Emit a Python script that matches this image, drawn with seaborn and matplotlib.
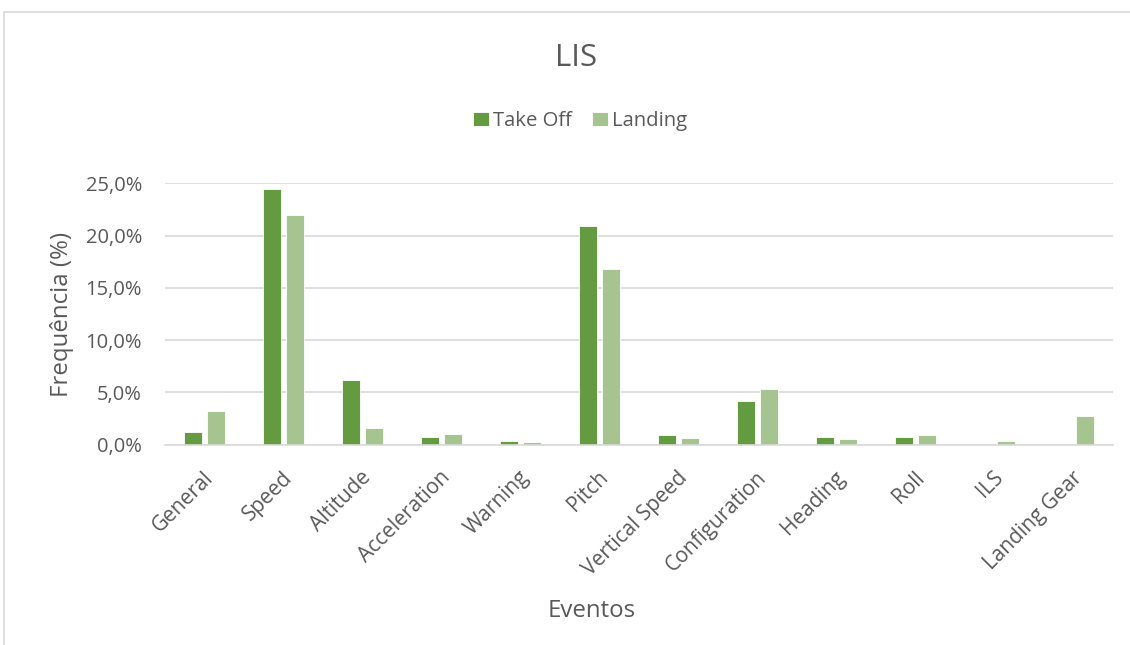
import matplotlib
matplotlib.use("Agg")
import matplotlib.pyplot as plt
import matplotlib.transforms as mtransforms
from matplotlib.lines import Line2D
from matplotlib.ticker import FuncFormatter, MultipleLocator
import pandas as pd
import seaborn as sns

# Event categories and frequency (%) per flight phase
eventos = ["General", "Speed", "Altitude", "Acceleration", "Warning", "Pitch",
           "Vertical Speed", "Configuration", "Heading", "Roll", "ILS", "Landing Gear"]
take_off = [1.2, 24.5, 6.2, 0.7, 0.4, 20.9, 0.9, 4.2, 0.75, 0.75, 0.0, 0.0]
landing = [3.2, 22.0, 1.6, 1.0, 0.25, 16.8, 0.6, 5.35, 0.55, 0.9, 0.33, 2.7]
fases = ["Take Off", "Landing"]
cores = ["#659B40", "#A5C48F"]

df = pd.DataFrame({
    "Evento": eventos * 2,
    "Frequência": take_off + landing,
    "Fase": [fases[0]] * len(eventos) + [fases[1]] * len(eventos),
})

sns.set_theme(style="white")
plt.rcParams["font.family"] = ["Open Sans", "DejaVu Sans"]
texto = "#595959"
grade = "#D9D9D9"

fig = plt.figure(figsize=(11.30, 6.45), dpi=100)
ax = fig.add_axes([165 / 1130, 1 - 444.7 / 645, (1113 - 165) / 1130, (444.7 - 183.3) / 645])

sns.barplot(data=df, x="Evento", y="Frequência", hue="Fase", order=eventos,
            hue_order=fases, palette=cores, width=0.58, gap=0.23,
            edgecolor="white", linewidth=0.6, saturation=1, ax=ax)

ax.set_ylim(0, 25)
ax.yaxis.set_major_locator(MultipleLocator(5))
ax.yaxis.set_major_formatter(FuncFormatter(lambda v, p: f"{v:.1f}%".replace(".", ",")))
ax.grid(axis="y", color=grade, linewidth=1.2)
ax.set_axisbelow(True)
for s in ["top", "right", "left"]:
    ax.spines[s].set_visible(False)
ax.spines["bottom"].set_color(grade)
ax.spines["bottom"].set_linewidth(1.2)

ax.tick_params(axis="y", length=0, pad=16.5, labelsize=14.5, labelcolor=texto)
ax.tick_params(axis="x", length=0, pad=16.0, labelsize=15.0, labelcolor=texto)
deslocamento = mtransforms.ScaledTranslation(-2 / 100, 0, fig.dpi_scale_trans)
for lbl in ax.get_xticklabels():
    lbl.set_rotation(45)
    lbl.set_ha("right")
    lbl.set_va("top")
    lbl.set_rotation_mode("anchor")
    lbl.set_transform(lbl.get_transform() + deslocamento)

ax.set_xlabel("")
ax.set_ylabel("")

handles, labels = ax.get_legend_handles_labels()
ax.get_legend().remove()
fig.legend(handles, labels, loc="center", bbox_to_anchor=(580 / 1130, 1 - 121 / 645),
           ncol=2, frameon=False, fontsize=14.6, labelcolor=texto,
           handlelength=0.8, handleheight=0.7, handletextpad=0.2, columnspacing=1.0)

fig.text(576 / 1130, 1 - 57.7 / 645, "LIS", ha="center", va="center",
         fontsize=22.5, color=texto)
fig.text(62 / 1130, 1 - 314 / 645, "Frequência (%)", ha="center", va="center",
         rotation=90, fontsize=17.3, color=texto)
fig.text(592 / 1130, 1 - 611 / 645, "Eventos", ha="center", va="center",
         fontsize=17.3, color=texto)

# chart-area border (top and left edges)
fig.add_artist(Line2D([4 / 1130, 1], [1 - 12 / 645, 1 - 12 / 645], color=grade, linewidth=1.2))
fig.add_artist(Line2D([4 / 1130, 4 / 1130], [0, 1 - 12 / 645], color=grade, linewidth=1.2))

fig.savefig("out.png", dpi=100, facecolor="white")
